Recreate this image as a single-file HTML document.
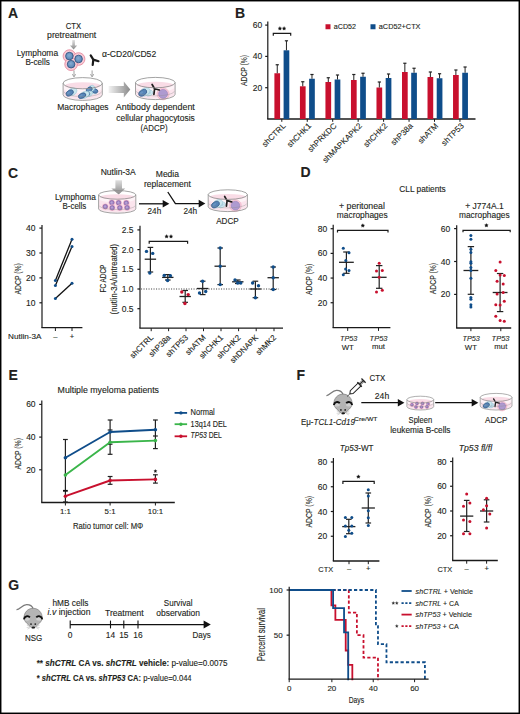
<!DOCTYPE html><html><head><meta charset="utf-8"><style>html,body{margin:0;padding:0;background:#fff;}svg{display:block;}text{font-family:"Liberation Sans",sans-serif;fill:#231f20;stroke:#231f20;stroke-width:0.12px;}</style></head><body>
<svg width="520" height="714" viewBox="0 0 520 714">
<defs>
<linearGradient id="gArrH" x1="0" y1="0" x2="1" y2="0"><stop offset="0" stop-color="#f2f2f2"/><stop offset="1" stop-color="#8a8a8a"/></linearGradient>
<linearGradient id="gArrV" x1="0" y1="0" x2="0" y2="1"><stop offset="0" stop-color="#e0e0e0"/><stop offset="1" stop-color="#8a8a8a"/></linearGradient>
<radialGradient id="gNuc" cx="0.45" cy="0.4" r="0.6"><stop offset="0" stop-color="#86acd2"/><stop offset="1" stop-color="#5481b2"/></radialGradient>
</defs>
<rect x="0.00" y="0.00" width="520.00" height="714.00" fill="#fff" />
<text x="8.00" y="17.80" font-size="14" font-weight="bold" fill="#000">A</text>
<text x="65.80" y="28.50" font-size="8.2" textLength="15.40" lengthAdjust="spacingAndGlyphs">CTX</text>
<text x="47.10" y="38.10" font-size="8.2" textLength="49.10" lengthAdjust="spacingAndGlyphs">pretreatment</text>
<text x="16.70" y="55.80" font-size="8.2" textLength="41.40" lengthAdjust="spacingAndGlyphs">Lymphoma</text>
<text x="25.40" y="64.60" font-size="8.2" textLength="24.40" lengthAdjust="spacingAndGlyphs">B-cells</text>
<text x="102.00" y="56.80" font-size="8.4" textLength="54.20" lengthAdjust="spacingAndGlyphs">α-CD20/CD52</text>
<path d="M72.3 40.0 H74.9 V45.6 H77.2 L73.6 49.5 L70.0 45.6 H72.3 Z" fill="url(#gArrV)"/>
<circle cx="69.40" cy="56.10" r="6.30" fill="#f7cbd6" stroke="#e58ca0" stroke-width="0.9"/>
<circle cx="78.60" cy="59.00" r="6.30" fill="#f7cbd6" stroke="#e58ca0" stroke-width="0.9"/>
<circle cx="71.10" cy="64.20" r="6.30" fill="#f7cbd6" stroke="#e58ca0" stroke-width="0.9"/>
<circle cx="69.40" cy="56.10" r="3.80" fill="url(#gNuc)" stroke="#2c4f7c" stroke-width="0.8"/>
<circle cx="78.60" cy="59.00" r="3.80" fill="url(#gNuc)" stroke="#2c4f7c" stroke-width="0.8"/>
<circle cx="71.10" cy="64.20" r="3.80" fill="url(#gNuc)" stroke="#2c4f7c" stroke-width="0.8"/>
<path d="M92.7 65.0 L93.3 59.6 L90.7 55.4 M93.3 59.6 L98.5 61.2" stroke="#1a1a1a" stroke-width="2.2" fill="none" stroke-linecap="round" stroke-linejoin="round"/>
<line x1="74.00" y1="70.40" x2="74.00" y2="75.50" stroke="#888" stroke-width="0.8" />
<path d="M72.4 74.2 L74.0 76.9 L75.6 74.2" stroke="#888" stroke-width="0.8" fill="none" />
<line x1="92.10" y1="70.40" x2="92.10" y2="75.50" stroke="#888" stroke-width="0.8" />
<path d="M90.5 74.2 L92.1 76.9 L93.69999999999999 74.2" stroke="#888" stroke-width="0.8" fill="none" />
<path d="M63.10 83.20 L63.10 94.80 A19.60 5.60 0 0 0 102.30 94.80 L102.30 83.20 A19.60 5.60 0 0 1 63.10 83.20 Z" fill="#fdf3f7" stroke="none"/>
<ellipse cx="82.70" cy="85.72" rx="17.64" ry="3.36" fill="#f8d3e0" opacity="0.8"/>
<path d="M63.69 88.24 L63.69 94.20 A19.01 5.15 0 0 0 101.71 94.20 L101.71 88.24 A19.01 5.04 0 0 1 63.69 88.24 Z" fill="#f8d3e0" opacity="0.45"/>
<g transform="translate(95.00 91.00) rotate(15)"><ellipse cx="-1.20" cy="0.3" rx="3.77" ry="2.84" fill="#c9e6ee" stroke="#8cbfd0" stroke-width="0.45"/><ellipse cx="0" cy="0" rx="2.90" ry="2.10" fill="#5684b6" stroke="#2b4f80" stroke-width="0.6"/><ellipse cx="-0.58" cy="-0.53" rx="1.30" ry="0.73" fill="#6d98c6" opacity="0.8"/></g>
<g transform="translate(89.20 89.60) rotate(-35)"><ellipse cx="1.80" cy="0.3" rx="4.29" ry="2.97" fill="#c9e6ee" stroke="#8cbfd0" stroke-width="0.45"/><ellipse cx="0" cy="0" rx="3.30" ry="2.20" fill="#5684b6" stroke="#2b4f80" stroke-width="0.6"/><ellipse cx="-0.66" cy="-0.55" rx="1.48" ry="0.77" fill="#6d98c6" opacity="0.8"/></g>
<g transform="translate(87.00 94.20) rotate(-20)"><ellipse cx="1.60" cy="0.3" rx="3.90" ry="2.70" fill="#c9e6ee" stroke="#8cbfd0" stroke-width="0.45"/><ellipse cx="0" cy="0" rx="3.00" ry="2.00" fill="#5684b6" stroke="#2b4f80" stroke-width="0.6"/><ellipse cx="-0.60" cy="-0.50" rx="1.35" ry="0.70" fill="#6d98c6" opacity="0.8"/></g>
<g transform="translate(69.70 93.00) rotate(-30)"><ellipse cx="2.60" cy="0.3" rx="5.20" ry="3.51" fill="#c9e6ee" stroke="#8cbfd0" stroke-width="0.45"/><ellipse cx="0" cy="0" rx="4.00" ry="2.60" fill="#5684b6" stroke="#2b4f80" stroke-width="0.6"/><ellipse cx="-0.80" cy="-0.65" rx="1.80" ry="0.91" fill="#6d98c6" opacity="0.8"/></g>
<g transform="translate(82.10 95.70) rotate(-25)"><ellipse cx="2.40" cy="0.3" rx="5.20" ry="3.24" fill="#c9e6ee" stroke="#8cbfd0" stroke-width="0.45"/><ellipse cx="0" cy="0" rx="4.00" ry="2.40" fill="#5684b6" stroke="#2b4f80" stroke-width="0.6"/><ellipse cx="-0.80" cy="-0.60" rx="1.80" ry="0.84" fill="#6d98c6" opacity="0.8"/></g>
<ellipse cx="82.70" cy="83.20" rx="19.60" ry="5.60" fill="none" stroke="#8c8c8c" stroke-width="0.8"/>
<path d="M63.10 83.20 L63.10 94.80 A19.60 5.60 0 0 0 102.30 94.80 L102.30 83.20" fill="none" stroke="#8c8c8c" stroke-width="0.8"/>
<path d="M63.88 91.60 A18.82 5.04 0 0 0 101.52 91.60" fill="none" stroke="#8c8c8c" stroke-width="0.5" opacity="0.7"/>
<path d="M108.6 85.9 H123.8 V81.5 L130.3 89.5 L123.8 97.4 V93.1 H108.6 Z" fill="url(#gArrH)"/>
<path d="M135.50 82.60 L135.50 94.40 A19.80 5.20 0 0 0 175.10 94.40 L175.10 82.60 A19.80 5.20 0 0 1 135.50 82.60 Z" fill="#fdf3f7" stroke="none"/>
<ellipse cx="155.30" cy="84.94" rx="17.82" ry="3.12" fill="#f8d3e0" opacity="0.8"/>
<path d="M136.09 87.28 L136.09 93.80 A19.21 4.78 0 0 0 174.51 93.80 L174.51 87.28 A19.21 4.68 0 0 1 136.09 87.28 Z" fill="#f8d3e0" opacity="0.45"/>
<ellipse cx="149.30" cy="93.20" rx="3.80" ry="2.60" transform="rotate(-25 149.30 93.20)" fill="#cfe8f0" stroke="#8cbfd0" stroke-width="0.45"/>
<ellipse cx="149.00" cy="93.00" rx="2.20" ry="1.40" transform="rotate(-25 149.00 93.00)" fill="#a9cde0" opacity="0.8"/>
<g transform="translate(142.70 92.80) rotate(-30)"><ellipse cx="2.20" cy="0.3" rx="5.72" ry="3.78" fill="#c9e6ee" stroke="#8cbfd0" stroke-width="0.45"/><ellipse cx="0" cy="0" rx="4.40" ry="2.80" fill="#5684b6" stroke="#2b4f80" stroke-width="0.6"/><ellipse cx="-0.88" cy="-0.70" rx="1.98" ry="0.98" fill="#6d98c6" opacity="0.8"/></g>
<circle cx="163.10" cy="93.90" r="6.00" fill="#f8cfdd" stroke="#eaa0b8" stroke-width="0.5"/>
<circle cx="163.10" cy="93.90" r="4.50" fill="#ae9ad0" stroke="#8a70b0" stroke-width="0.45"/>
<path d="M152.10 84.50 L154.60 88.80 L159.30 90.00 M154.60 88.80 L153.90 94.40" stroke="#1e1e1e" stroke-width="1.7" fill="none" stroke-linecap="round" stroke-linejoin="round"/>
<ellipse cx="155.30" cy="82.60" rx="19.80" ry="5.20" fill="none" stroke="#8c8c8c" stroke-width="0.8"/>
<path d="M135.50 82.60 L135.50 94.40 A19.80 5.20 0 0 0 175.10 94.40 L175.10 82.60" fill="none" stroke="#8c8c8c" stroke-width="0.8"/>
<path d="M136.29 91.20 A19.01 4.68 0 0 0 174.31 91.20" fill="none" stroke="#8c8c8c" stroke-width="0.5" opacity="0.7"/>
<text x="57.30" y="110.40" font-size="8.4" textLength="51.30" lengthAdjust="spacingAndGlyphs">Macrophages</text>
<text x="115.80" y="110.40" font-size="8.4" textLength="79.00" lengthAdjust="spacingAndGlyphs">Antibody dependent</text>
<text x="116.20" y="120.50" font-size="8.4" textLength="78.60" lengthAdjust="spacingAndGlyphs">cellular phagocytosis</text>
<text x="140.50" y="130.80" font-size="8.4" textLength="27.00" lengthAdjust="spacingAndGlyphs">(ADCP)</text>
<text x="235.00" y="17.70" font-size="14" font-weight="bold" fill="#000">B</text>
<line x1="267.80" y1="21.50" x2="267.80" y2="119.00" stroke="#1a1a1a" stroke-width="1.2" />
<line x1="265.20" y1="25.10" x2="267.80" y2="25.10" stroke="#1a1a1a" stroke-width="1.2" />
<text x="262.20" y="28.10" font-size="8.5" text-anchor="end">60</text>
<line x1="265.20" y1="56.40" x2="267.80" y2="56.40" stroke="#1a1a1a" stroke-width="1.2" />
<text x="262.20" y="59.40" font-size="8.5" text-anchor="end">40</text>
<line x1="265.20" y1="87.70" x2="267.80" y2="87.70" stroke="#1a1a1a" stroke-width="1.2" />
<text x="262.20" y="90.70" font-size="8.5" text-anchor="end">20</text>
<line x1="267.20" y1="119.00" x2="475.50" y2="119.00" stroke="#1a1a1a" stroke-width="1.3" />
<text x="247.00" y="70.40" font-size="9.0" text-anchor="middle" textLength="31.00" lengthAdjust="spacingAndGlyphs" transform="rotate(-90 247.00 70.40)">ADCP (%)</text>
<rect x="325.50" y="24.25" width="5.00" height="5.00" fill="#c8102e" />
<text x="333.80" y="29.40" font-size="7.6" textLength="22.20" lengthAdjust="spacingAndGlyphs">aCD52</text>
<rect x="370.50" y="24.25" width="5.00" height="5.00" fill="#0f4d8a" />
<text x="378.80" y="29.40" font-size="7.6" textLength="41.70" lengthAdjust="spacingAndGlyphs">aCD52+CTX</text>
<rect x="274.40" y="73.25" width="5.70" height="45.75" fill="#c8102e" />
<rect x="283.60" y="50.30" width="5.70" height="68.70" fill="#0f4d8a" />
<line x1="277.25" y1="73.25" x2="277.25" y2="64.75" stroke="#222" stroke-width="1.0" />
<line x1="275.65" y1="64.75" x2="278.85" y2="64.75" stroke="#222" stroke-width="1.2" />
<line x1="286.45" y1="50.30" x2="286.45" y2="40.80" stroke="#222" stroke-width="1.0" />
<line x1="284.85" y1="40.80" x2="288.05" y2="40.80" stroke="#222" stroke-width="1.2" />
<line x1="281.80" y1="119.00" x2="281.80" y2="121.80" stroke="#1a1a1a" stroke-width="1.0" />
<text x="286.20" y="126.40" font-size="8.1" text-anchor="end" transform="rotate(-45 286.20 126.40)">shCTRL</text>
<rect x="299.92" y="86.30" width="5.70" height="32.70" fill="#c8102e" />
<rect x="309.12" y="78.75" width="5.70" height="40.25" fill="#0f4d8a" />
<line x1="302.77" y1="86.30" x2="302.77" y2="81.75" stroke="#222" stroke-width="1.0" />
<line x1="301.17" y1="81.75" x2="304.37" y2="81.75" stroke="#222" stroke-width="1.2" />
<line x1="311.97" y1="78.75" x2="311.97" y2="74.50" stroke="#222" stroke-width="1.0" />
<line x1="310.37" y1="74.50" x2="313.57" y2="74.50" stroke="#222" stroke-width="1.2" />
<line x1="307.25" y1="119.00" x2="307.25" y2="121.80" stroke="#1a1a1a" stroke-width="1.0" />
<text x="311.65" y="126.40" font-size="8.1" text-anchor="end" transform="rotate(-45 311.65 126.40)">shCHK1</text>
<rect x="325.44" y="82.00" width="5.70" height="37.00" fill="#c8102e" />
<rect x="334.64" y="79.50" width="5.70" height="39.50" fill="#0f4d8a" />
<line x1="328.29" y1="82.00" x2="328.29" y2="77.75" stroke="#222" stroke-width="1.0" />
<line x1="326.69" y1="77.75" x2="329.89" y2="77.75" stroke="#222" stroke-width="1.2" />
<line x1="337.49" y1="79.50" x2="337.49" y2="75.00" stroke="#222" stroke-width="1.0" />
<line x1="335.89" y1="75.00" x2="339.09" y2="75.00" stroke="#222" stroke-width="1.2" />
<line x1="332.70" y1="119.00" x2="332.70" y2="121.80" stroke="#1a1a1a" stroke-width="1.0" />
<text x="337.10" y="126.40" font-size="8.1" text-anchor="end" transform="rotate(-45 337.10 126.40)">shPRKDC</text>
<rect x="350.96" y="80.00" width="5.70" height="39.00" fill="#c8102e" />
<rect x="360.16" y="76.75" width="5.70" height="42.25" fill="#0f4d8a" />
<line x1="353.81" y1="80.00" x2="353.81" y2="74.50" stroke="#222" stroke-width="1.0" />
<line x1="352.21" y1="74.50" x2="355.41" y2="74.50" stroke="#222" stroke-width="1.2" />
<line x1="363.01" y1="76.75" x2="363.01" y2="73.25" stroke="#222" stroke-width="1.0" />
<line x1="361.41" y1="73.25" x2="364.61" y2="73.25" stroke="#222" stroke-width="1.2" />
<line x1="358.15" y1="119.00" x2="358.15" y2="121.80" stroke="#1a1a1a" stroke-width="1.0" />
<text x="362.55" y="126.40" font-size="8.1" text-anchor="end" transform="rotate(-45 362.55 126.40)">shMAPKAPK2</text>
<rect x="376.48" y="87.50" width="5.70" height="31.50" fill="#c8102e" />
<rect x="385.68" y="78.00" width="5.70" height="41.00" fill="#0f4d8a" />
<line x1="379.33" y1="87.50" x2="379.33" y2="82.00" stroke="#222" stroke-width="1.0" />
<line x1="377.73" y1="82.00" x2="380.93" y2="82.00" stroke="#222" stroke-width="1.2" />
<line x1="388.53" y1="78.00" x2="388.53" y2="74.00" stroke="#222" stroke-width="1.0" />
<line x1="386.93" y1="74.00" x2="390.13" y2="74.00" stroke="#222" stroke-width="1.2" />
<line x1="383.60" y1="119.00" x2="383.60" y2="121.80" stroke="#1a1a1a" stroke-width="1.0" />
<text x="388.00" y="126.40" font-size="8.1" text-anchor="end" transform="rotate(-45 388.00 126.40)">shCHK2</text>
<rect x="402.00" y="72.00" width="5.70" height="47.00" fill="#c8102e" />
<rect x="411.20" y="72.75" width="5.70" height="46.25" fill="#0f4d8a" />
<line x1="404.85" y1="72.00" x2="404.85" y2="63.25" stroke="#222" stroke-width="1.0" />
<line x1="403.25" y1="63.25" x2="406.45" y2="63.25" stroke="#222" stroke-width="1.2" />
<line x1="414.05" y1="72.75" x2="414.05" y2="68.25" stroke="#222" stroke-width="1.0" />
<line x1="412.45" y1="68.25" x2="415.65" y2="68.25" stroke="#222" stroke-width="1.2" />
<line x1="409.05" y1="119.00" x2="409.05" y2="121.80" stroke="#1a1a1a" stroke-width="1.0" />
<text x="413.45" y="126.40" font-size="8.1" text-anchor="end" transform="rotate(-45 413.45 126.40)">shP38a</text>
<rect x="427.52" y="77.00" width="5.70" height="42.00" fill="#c8102e" />
<rect x="436.72" y="78.25" width="5.70" height="40.75" fill="#0f4d8a" />
<line x1="430.37" y1="77.00" x2="430.37" y2="72.00" stroke="#222" stroke-width="1.0" />
<line x1="428.77" y1="72.00" x2="431.97" y2="72.00" stroke="#222" stroke-width="1.2" />
<line x1="439.57" y1="78.25" x2="439.57" y2="73.75" stroke="#222" stroke-width="1.0" />
<line x1="437.97" y1="73.75" x2="441.17" y2="73.75" stroke="#222" stroke-width="1.2" />
<line x1="434.50" y1="119.00" x2="434.50" y2="121.80" stroke="#1a1a1a" stroke-width="1.0" />
<text x="438.90" y="126.40" font-size="8.1" text-anchor="end" transform="rotate(-45 438.90 126.40)">shATM</text>
<rect x="453.04" y="75.00" width="5.70" height="44.00" fill="#c8102e" />
<rect x="462.24" y="72.75" width="5.70" height="46.25" fill="#0f4d8a" />
<line x1="455.89" y1="75.00" x2="455.89" y2="70.00" stroke="#222" stroke-width="1.0" />
<line x1="454.29" y1="70.00" x2="457.49" y2="70.00" stroke="#222" stroke-width="1.2" />
<line x1="465.09" y1="72.75" x2="465.09" y2="67.00" stroke="#222" stroke-width="1.0" />
<line x1="463.49" y1="67.00" x2="466.69" y2="67.00" stroke="#222" stroke-width="1.2" />
<line x1="459.95" y1="119.00" x2="459.95" y2="121.80" stroke="#1a1a1a" stroke-width="1.0" />
<text x="464.35" y="126.40" font-size="8.1" text-anchor="end" transform="rotate(-45 464.35 126.40)">shTP53</text>
<path d="M273.3 35.8 V33.4 H290.7 V35.8" stroke="#1a1a1a" stroke-width="1.2" fill="none" />
<polygon points="279.90,26.60 280.49,27.69 281.71,27.91 280.85,28.81 281.02,30.04 279.90,29.50 278.78,30.04 278.95,28.81 278.09,27.91 279.31,27.69" fill="#111" stroke="#111" stroke-width="0.3"/>
<polygon points="284.10,26.60 284.69,27.69 285.91,27.91 285.05,28.81 285.22,30.04 284.10,29.50 282.98,30.04 283.15,28.81 282.29,27.91 283.51,27.69" fill="#111" stroke="#111" stroke-width="0.3"/>
<text x="8.00" y="177.60" font-size="14" font-weight="bold" fill="#000">C</text>
<text x="100.70" y="175.00" font-size="8.2" textLength="35.10" lengthAdjust="spacingAndGlyphs">Nutlin-3A</text>
<text x="55.00" y="199.80" font-size="8.2" textLength="40.80" lengthAdjust="spacingAndGlyphs">Lymphoma</text>
<text x="62.50" y="208.70" font-size="8.2" textLength="23.80" lengthAdjust="spacingAndGlyphs">B-cells</text>
<path d="M115.4 180.2 H122.0 V188.4 H125.2 L118.7 194.4 L111.3 188.4 H115.4 Z" fill="url(#gArrV)"/>
<path d="M98.60 194.90 L98.60 208.90 A18.60 4.30 0 0 0 135.80 208.90 L135.80 194.90 A18.60 4.30 0 0 1 98.60 194.90 Z" fill="#fdf3f7" stroke="none"/>
<ellipse cx="117.20" cy="196.84" rx="16.74" ry="2.58" fill="#f8d3e0" opacity="0.8"/>
<path d="M99.16 198.77 L99.16 208.30 A18.04 3.96 0 0 0 135.24 208.30 L135.24 198.77 A18.04 3.87 0 0 1 99.16 198.77 Z" fill="#f8d3e0" opacity="0.45"/>
<circle cx="111.80" cy="202.60" r="3.20" fill="#f4bccf" />
<circle cx="111.80" cy="202.60" r="2.20" fill="#a286c4" stroke="#74579f" stroke-width="0.55"/>
<circle cx="111.60" cy="202.40" r="0.99" fill="#b9a2d6" />
<circle cx="118.60" cy="202.80" r="3.20" fill="#f4bccf" />
<circle cx="118.60" cy="202.80" r="2.20" fill="#a286c4" stroke="#74579f" stroke-width="0.55"/>
<circle cx="118.40" cy="202.60" r="0.99" fill="#b9a2d6" />
<circle cx="126.30" cy="203.00" r="3.20" fill="#f4bccf" />
<circle cx="126.30" cy="203.00" r="2.20" fill="#a286c4" stroke="#74579f" stroke-width="0.55"/>
<circle cx="126.10" cy="202.80" r="0.99" fill="#b9a2d6" />
<circle cx="105.30" cy="206.60" r="3.20" fill="#f4bccf" />
<circle cx="105.30" cy="206.60" r="2.20" fill="#a286c4" stroke="#74579f" stroke-width="0.55"/>
<circle cx="105.10" cy="206.40" r="0.99" fill="#b9a2d6" />
<circle cx="112.20" cy="207.80" r="3.20" fill="#f4bccf" />
<circle cx="112.20" cy="207.80" r="2.20" fill="#a286c4" stroke="#74579f" stroke-width="0.55"/>
<circle cx="112.00" cy="207.60" r="0.99" fill="#b9a2d6" />
<circle cx="119.80" cy="207.80" r="3.20" fill="#f4bccf" />
<circle cx="119.80" cy="207.80" r="2.20" fill="#a286c4" stroke="#74579f" stroke-width="0.55"/>
<circle cx="119.60" cy="207.60" r="0.99" fill="#b9a2d6" />
<circle cx="127.10" cy="207.60" r="3.20" fill="#f4bccf" />
<circle cx="127.10" cy="207.60" r="2.20" fill="#a286c4" stroke="#74579f" stroke-width="0.55"/>
<circle cx="126.90" cy="207.40" r="0.99" fill="#b9a2d6" />
<ellipse cx="117.20" cy="194.90" rx="18.60" ry="4.30" fill="none" stroke="#8c8c8c" stroke-width="0.8"/>
<path d="M98.60 194.90 L98.60 208.90 A18.60 4.30 0 0 0 135.80 208.90 L135.80 194.90" fill="none" stroke="#8c8c8c" stroke-width="0.8"/>
<path d="M99.34 205.70 A17.86 3.87 0 0 0 135.06 205.70" fill="none" stroke="#8c8c8c" stroke-width="0.5" opacity="0.7"/>
<line x1="139.00" y1="203.80" x2="163.20" y2="203.80" stroke="#111" stroke-width="1.3" />
<path d="M162.70 200.00 L169.30 203.80 L162.70 207.60 Z" fill="#111"/>
<text x="147.60" y="214.00" font-size="8.2" textLength="13.60" lengthAdjust="spacingAndGlyphs">24h</text>
<text x="155.80" y="177.20" font-size="8.2" textLength="23.20" lengthAdjust="spacingAndGlyphs">Media</text>
<text x="144.00" y="186.90" font-size="8.2" textLength="46.80" lengthAdjust="spacingAndGlyphs">replacement</text>
<path d="M167.8 192.0 L175.4 203.6 H200.0" stroke="#111" stroke-width="1.3" fill="none" />
<path d="M198.7 199.8 L205.3 203.6 L198.7 207.4 Z" fill="#111"/>
<text x="183.40" y="214.00" font-size="8.2" textLength="13.80" lengthAdjust="spacingAndGlyphs">24h</text>
<path d="M208.20 194.60 L208.20 206.80 A19.60 4.80 0 0 0 247.40 206.80 L247.40 194.60 A19.60 4.80 0 0 1 208.20 194.60 Z" fill="#fdf3f7" stroke="none"/>
<ellipse cx="227.80" cy="196.76" rx="17.64" ry="2.88" fill="#f8d3e0" opacity="0.8"/>
<path d="M208.79 198.92 L208.79 206.20 A19.01 4.42 0 0 0 246.81 206.20 L246.81 198.92 A19.01 4.32 0 0 1 208.79 198.92 Z" fill="#f8d3e0" opacity="0.45"/>
<ellipse cx="221.92" cy="204.99" rx="3.72" ry="2.55" transform="rotate(-25 221.92 204.99)" fill="#cfe8f0" stroke="#8cbfd0" stroke-width="0.45"/>
<ellipse cx="221.63" cy="204.79" rx="2.16" ry="1.37" transform="rotate(-25 221.63 204.79)" fill="#a9cde0" opacity="0.8"/>
<g transform="translate(215.45 204.60) rotate(-30)"><ellipse cx="2.16" cy="0.3" rx="5.61" ry="3.70" fill="#c9e6ee" stroke="#8cbfd0" stroke-width="0.45"/><ellipse cx="0" cy="0" rx="4.31" ry="2.74" fill="#5684b6" stroke="#2b4f80" stroke-width="0.6"/><ellipse cx="-0.86" cy="-0.69" rx="1.94" ry="0.96" fill="#6d98c6" opacity="0.8"/></g>
<circle cx="235.44" cy="205.67" r="5.88" fill="#f8cfdd" stroke="#eaa0b8" stroke-width="0.5"/>
<circle cx="235.44" cy="205.67" r="4.41" fill="#ae9ad0" stroke="#8a70b0" stroke-width="0.45"/>
<path d="M224.66 196.46 L227.11 200.68 L231.72 201.85 M227.11 200.68 L226.43 206.16" stroke="#1e1e1e" stroke-width="1.666" fill="none" stroke-linecap="round" stroke-linejoin="round"/>
<ellipse cx="227.80" cy="194.60" rx="19.60" ry="4.80" fill="none" stroke="#8c8c8c" stroke-width="0.8"/>
<path d="M208.20 194.60 L208.20 206.80 A19.60 4.80 0 0 0 247.40 206.80 L247.40 194.60" fill="none" stroke="#8c8c8c" stroke-width="0.8"/>
<path d="M208.98 203.60 A18.82 4.32 0 0 0 246.62 203.60" fill="none" stroke="#8c8c8c" stroke-width="0.5" opacity="0.7"/>
<text x="216.20" y="223.70" font-size="8.2" textLength="22.50" lengthAdjust="spacingAndGlyphs">ADCP</text>
<line x1="42.00" y1="225.00" x2="42.00" y2="327.70" stroke="#1a1a1a" stroke-width="1.2" />
<line x1="39.40" y1="228.10" x2="42.00" y2="228.10" stroke="#1a1a1a" stroke-width="1.2" />
<text x="35.40" y="231.10" font-size="8.5" text-anchor="end">40</text>
<line x1="39.40" y1="253.00" x2="42.00" y2="253.00" stroke="#1a1a1a" stroke-width="1.2" />
<text x="35.40" y="256.00" font-size="8.5" text-anchor="end">30</text>
<line x1="39.40" y1="277.90" x2="42.00" y2="277.90" stroke="#1a1a1a" stroke-width="1.2" />
<text x="35.40" y="280.90" font-size="8.5" text-anchor="end">20</text>
<line x1="39.40" y1="302.80" x2="42.00" y2="302.80" stroke="#1a1a1a" stroke-width="1.2" />
<text x="35.40" y="305.80" font-size="8.5" text-anchor="end">10</text>
<line x1="41.40" y1="327.70" x2="82.40" y2="327.70" stroke="#1a1a1a" stroke-width="1.3" />
<line x1="55.40" y1="327.70" x2="55.40" y2="331.00" stroke="#1a1a1a" stroke-width="1.0" />
<line x1="72.00" y1="327.70" x2="72.00" y2="331.00" stroke="#1a1a1a" stroke-width="1.0" />
<line x1="55.40" y1="280.40" x2="72.00" y2="239.30" stroke="#111" stroke-width="1.3" />
<line x1="55.40" y1="285.50" x2="72.00" y2="246.50" stroke="#111" stroke-width="1.3" />
<line x1="55.40" y1="298.40" x2="72.00" y2="283.20" stroke="#111" stroke-width="1.3" />
<circle cx="55.40" cy="280.40" r="1.50" fill="#0f4d8a" />
<circle cx="55.40" cy="285.50" r="1.50" fill="#0f4d8a" />
<circle cx="55.40" cy="298.40" r="1.50" fill="#0f4d8a" />
<circle cx="72.00" cy="239.30" r="1.50" fill="#0f4d8a" />
<circle cx="72.00" cy="246.50" r="1.50" fill="#0f4d8a" />
<circle cx="72.00" cy="283.20" r="1.50" fill="#0f4d8a" />
<text x="21.00" y="278.80" font-size="9.0" text-anchor="middle" textLength="31.30" lengthAdjust="spacingAndGlyphs" transform="rotate(-90 21.00 278.80)">ADCP (%)</text>
<text x="8.00" y="339.20" font-size="7.6" textLength="33.50" lengthAdjust="spacingAndGlyphs">Nutlin-3A</text>
<text x="55.40" y="339.00" font-size="7.6" text-anchor="middle">–</text>
<text x="72.00" y="339.00" font-size="7.6" text-anchor="middle">+</text>
<line x1="140.00" y1="225.70" x2="140.00" y2="328.20" stroke="#1a1a1a" stroke-width="1.2" />
<line x1="137.40" y1="229.90" x2="140.00" y2="229.90" stroke="#1a1a1a" stroke-width="1.2" />
<text x="133.60" y="232.90" font-size="8.5" text-anchor="end">2.5</text>
<line x1="137.40" y1="249.60" x2="140.00" y2="249.60" stroke="#1a1a1a" stroke-width="1.2" />
<text x="133.60" y="252.60" font-size="8.5" text-anchor="end">2.0</text>
<line x1="137.40" y1="269.30" x2="140.00" y2="269.30" stroke="#1a1a1a" stroke-width="1.2" />
<text x="133.60" y="272.30" font-size="8.5" text-anchor="end">1.5</text>
<line x1="137.40" y1="289.00" x2="140.00" y2="289.00" stroke="#1a1a1a" stroke-width="1.2" />
<text x="133.60" y="292.00" font-size="8.5" text-anchor="end">1.0</text>
<line x1="137.40" y1="308.70" x2="140.00" y2="308.70" stroke="#1a1a1a" stroke-width="1.2" />
<text x="133.60" y="311.70" font-size="8.5" text-anchor="end">0.5</text>
<line x1="139.40" y1="328.20" x2="283.00" y2="328.20" stroke="#1a1a1a" stroke-width="1.3" />
<line x1="141.00" y1="289.00" x2="279.00" y2="289.00" stroke="#333" stroke-width="0.9" stroke-dasharray="1.1 1.4"/>
<text x="105.50" y="278.50" font-size="8.8" text-anchor="middle" textLength="27.80" lengthAdjust="spacingAndGlyphs" transform="rotate(-90 105.50 278.50)">FC ADCP</text>
<text x="116.70" y="279.10" font-size="8.8" text-anchor="middle" textLength="70.60" lengthAdjust="spacingAndGlyphs" transform="rotate(-90 116.70 279.10)">(nutlin-3A/untreated)</text>
<line x1="150.40" y1="247.40" x2="150.40" y2="272.00" stroke="#222" stroke-width="1.2" />
<line x1="147.60" y1="247.40" x2="153.20" y2="247.40" stroke="#222" stroke-width="1.2" />
<line x1="147.60" y1="272.00" x2="153.20" y2="272.00" stroke="#222" stroke-width="1.2" />
<line x1="144.70" y1="259.20" x2="156.10" y2="259.20" stroke="#222" stroke-width="1.3" />
<circle cx="146.50" cy="251.40" r="1.70" fill="#0f4d8a" />
<circle cx="152.70" cy="253.40" r="1.70" fill="#0f4d8a" />
<circle cx="149.80" cy="273.00" r="1.70" fill="#0f4d8a" />
<line x1="151.20" y1="328.20" x2="151.20" y2="331.20" stroke="#1a1a1a" stroke-width="1.0" />
<text x="153.80" y="338.00" font-size="8.0" text-anchor="end" transform="rotate(-45 153.80 338.00)">shCTRL</text>
<line x1="167.80" y1="274.60" x2="167.80" y2="280.00" stroke="#222" stroke-width="1.2" />
<line x1="165.00" y1="274.60" x2="170.60" y2="274.60" stroke="#222" stroke-width="1.2" />
<line x1="165.00" y1="280.00" x2="170.60" y2="280.00" stroke="#222" stroke-width="1.2" />
<line x1="162.10" y1="277.40" x2="173.50" y2="277.40" stroke="#222" stroke-width="1.3" />
<circle cx="164.20" cy="275.40" r="1.70" fill="#0f4d8a" />
<circle cx="170.40" cy="275.70" r="1.70" fill="#0f4d8a" />
<circle cx="167.60" cy="280.50" r="1.70" fill="#0f4d8a" />
<line x1="168.60" y1="328.20" x2="168.60" y2="331.20" stroke="#1a1a1a" stroke-width="1.0" />
<text x="171.20" y="338.00" font-size="8.0" text-anchor="end" transform="rotate(-45 171.20 338.00)">shP38a</text>
<line x1="185.20" y1="290.50" x2="185.20" y2="302.30" stroke="#222" stroke-width="1.2" />
<line x1="182.40" y1="290.50" x2="188.00" y2="290.50" stroke="#222" stroke-width="1.2" />
<line x1="182.40" y1="302.30" x2="188.00" y2="302.30" stroke="#222" stroke-width="1.2" />
<line x1="179.50" y1="296.50" x2="190.90" y2="296.50" stroke="#222" stroke-width="1.3" />
<circle cx="181.80" cy="292.00" r="1.70" fill="#c8102e" />
<circle cx="188.20" cy="294.60" r="1.70" fill="#c8102e" />
<circle cx="184.90" cy="303.50" r="1.70" fill="#c8102e" />
<line x1="186.00" y1="328.20" x2="186.00" y2="331.20" stroke="#1a1a1a" stroke-width="1.0" />
<text x="188.60" y="338.00" font-size="8.0" text-anchor="end" transform="rotate(-45 188.60 338.00)">shTP53</text>
<line x1="202.70" y1="281.20" x2="202.70" y2="294.60" stroke="#222" stroke-width="1.2" />
<line x1="199.90" y1="281.20" x2="205.50" y2="281.20" stroke="#222" stroke-width="1.2" />
<line x1="199.90" y1="294.60" x2="205.50" y2="294.60" stroke="#222" stroke-width="1.2" />
<line x1="197.00" y1="288.50" x2="208.40" y2="288.50" stroke="#222" stroke-width="1.3" />
<circle cx="202.60" cy="281.20" r="1.70" fill="#0f4d8a" />
<circle cx="199.50" cy="293.00" r="1.70" fill="#0f4d8a" />
<circle cx="205.70" cy="291.50" r="1.70" fill="#0f4d8a" />
<line x1="203.50" y1="328.20" x2="203.50" y2="331.20" stroke="#1a1a1a" stroke-width="1.0" />
<text x="206.10" y="338.00" font-size="8.0" text-anchor="end" transform="rotate(-45 206.10 338.00)">shATM</text>
<line x1="220.20" y1="248.00" x2="220.20" y2="284.60" stroke="#222" stroke-width="1.2" />
<line x1="217.40" y1="248.00" x2="223.00" y2="248.00" stroke="#222" stroke-width="1.2" />
<line x1="217.40" y1="284.60" x2="223.00" y2="284.60" stroke="#222" stroke-width="1.2" />
<line x1="214.50" y1="266.20" x2="225.90" y2="266.20" stroke="#222" stroke-width="1.3" />
<circle cx="220.20" cy="248.00" r="1.70" fill="#0f4d8a" />
<circle cx="220.20" cy="266.20" r="1.70" fill="#0f4d8a" />
<circle cx="220.20" cy="284.60" r="1.70" fill="#0f4d8a" />
<line x1="221.00" y1="328.20" x2="221.00" y2="331.20" stroke="#1a1a1a" stroke-width="1.0" />
<text x="223.60" y="338.00" font-size="8.0" text-anchor="end" transform="rotate(-45 223.60 338.00)">shCHK1</text>
<line x1="237.80" y1="280.00" x2="237.80" y2="283.50" stroke="#222" stroke-width="1.2" />
<line x1="235.00" y1="280.00" x2="240.60" y2="280.00" stroke="#222" stroke-width="1.2" />
<line x1="235.00" y1="283.50" x2="240.60" y2="283.50" stroke="#222" stroke-width="1.2" />
<line x1="232.10" y1="281.80" x2="243.50" y2="281.80" stroke="#222" stroke-width="1.3" />
<circle cx="235.00" cy="280.00" r="1.70" fill="#0f4d8a" />
<circle cx="237.70" cy="283.00" r="1.70" fill="#0f4d8a" />
<circle cx="240.80" cy="283.00" r="1.70" fill="#0f4d8a" />
<line x1="238.60" y1="328.20" x2="238.60" y2="331.20" stroke="#1a1a1a" stroke-width="1.0" />
<text x="241.20" y="338.00" font-size="8.0" text-anchor="end" transform="rotate(-45 241.20 338.00)">shCHK2</text>
<line x1="255.40" y1="281.20" x2="255.40" y2="297.70" stroke="#222" stroke-width="1.2" />
<line x1="252.60" y1="281.20" x2="258.20" y2="281.20" stroke="#222" stroke-width="1.2" />
<line x1="252.60" y1="297.70" x2="258.20" y2="297.70" stroke="#222" stroke-width="1.2" />
<line x1="249.70" y1="289.00" x2="261.10" y2="289.00" stroke="#222" stroke-width="1.3" />
<circle cx="252.60" cy="283.00" r="1.70" fill="#0f4d8a" />
<circle cx="258.50" cy="285.80" r="1.70" fill="#0f4d8a" />
<circle cx="255.40" cy="297.70" r="1.70" fill="#0f4d8a" />
<line x1="256.20" y1="328.20" x2="256.20" y2="331.20" stroke="#1a1a1a" stroke-width="1.0" />
<text x="258.80" y="338.00" font-size="8.0" text-anchor="end" transform="rotate(-45 258.80 338.00)">shDNAPK</text>
<line x1="273.20" y1="267.00" x2="273.20" y2="289.50" stroke="#222" stroke-width="1.2" />
<line x1="270.40" y1="267.00" x2="276.00" y2="267.00" stroke="#222" stroke-width="1.2" />
<line x1="270.40" y1="289.50" x2="276.00" y2="289.50" stroke="#222" stroke-width="1.2" />
<line x1="267.50" y1="277.70" x2="278.90" y2="277.70" stroke="#222" stroke-width="1.3" />
<circle cx="273.20" cy="267.00" r="1.70" fill="#0f4d8a" />
<circle cx="273.20" cy="277.70" r="1.70" fill="#0f4d8a" />
<circle cx="273.20" cy="289.50" r="1.70" fill="#0f4d8a" />
<line x1="274.00" y1="328.20" x2="274.00" y2="331.20" stroke="#1a1a1a" stroke-width="1.0" />
<text x="276.60" y="338.00" font-size="8.0" text-anchor="end" transform="rotate(-45 276.60 338.00)">shMK2</text>
<path d="M149.2 243.8 V241.3 H187.6 V243.8" stroke="#1a1a1a" stroke-width="1.2" fill="none" />
<polygon points="166.60,234.60 167.19,235.69 168.41,235.91 167.55,236.81 167.72,238.04 166.60,237.50 165.48,238.04 165.65,236.81 164.79,235.91 166.01,235.69" fill="#111" stroke="#111" stroke-width="0.3"/>
<polygon points="171.00,234.60 171.59,235.69 172.81,235.91 171.95,236.81 172.12,238.04 171.00,237.50 169.88,238.04 170.05,236.81 169.19,235.91 170.41,235.69" fill="#111" stroke="#111" stroke-width="0.3"/>
<text x="300.60" y="177.30" font-size="14" font-weight="bold" fill="#000">D</text>
<text x="399.30" y="191.60" font-size="8.2" textLength="46.50" lengthAdjust="spacingAndGlyphs">CLL patients</text>
<text x="339.00" y="208.60" font-size="8.2" textLength="45.90" lengthAdjust="spacingAndGlyphs">+ peritoneal</text>
<text x="336.80" y="218.40" font-size="8.2" textLength="50.80" lengthAdjust="spacingAndGlyphs">macrophages</text>
<text x="465.20" y="209.40" font-size="8.2" textLength="38.60" lengthAdjust="spacingAndGlyphs">+ J774A.1</text>
<text x="459.00" y="218.40" font-size="8.2" textLength="50.60" lengthAdjust="spacingAndGlyphs">macrophages</text>
<line x1="333.20" y1="224.80" x2="333.20" y2="327.70" stroke="#1a1a1a" stroke-width="1.2" />
<line x1="330.60" y1="228.72" x2="333.20" y2="228.72" stroke="#1a1a1a" stroke-width="1.2" />
<text x="327.20" y="231.72" font-size="8.5" text-anchor="end">80</text>
<line x1="330.60" y1="253.39" x2="333.20" y2="253.39" stroke="#1a1a1a" stroke-width="1.2" />
<text x="327.20" y="256.39" font-size="8.5" text-anchor="end">60</text>
<line x1="330.60" y1="278.06" x2="333.20" y2="278.06" stroke="#1a1a1a" stroke-width="1.2" />
<text x="327.20" y="281.06" font-size="8.5" text-anchor="end">40</text>
<line x1="330.60" y1="302.73" x2="333.20" y2="302.73" stroke="#1a1a1a" stroke-width="1.2" />
<text x="327.20" y="305.73" font-size="8.5" text-anchor="end">20</text>
<line x1="332.60" y1="327.70" x2="390.40" y2="327.70" stroke="#1a1a1a" stroke-width="1.3" />
<line x1="347.70" y1="327.70" x2="347.70" y2="330.90" stroke="#1a1a1a" stroke-width="1.0" />
<line x1="378.50" y1="327.70" x2="378.50" y2="330.90" stroke="#1a1a1a" stroke-width="1.0" />
<line x1="346.40" y1="252.00" x2="346.40" y2="273.30" stroke="#222" stroke-width="1.2" />
<line x1="343.20" y1="252.00" x2="349.60" y2="252.00" stroke="#222" stroke-width="1.2" />
<line x1="343.20" y1="273.30" x2="349.60" y2="273.30" stroke="#222" stroke-width="1.2" />
<line x1="339.00" y1="262.30" x2="353.80" y2="262.30" stroke="#222" stroke-width="1.3" />
<circle cx="343.30" cy="248.30" r="1.50" fill="#0f4d8a" />
<circle cx="349.00" cy="252.70" r="1.50" fill="#0f4d8a" />
<circle cx="345.80" cy="260.40" r="1.50" fill="#0f4d8a" />
<circle cx="345.60" cy="269.00" r="1.50" fill="#0f4d8a" />
<circle cx="349.00" cy="270.60" r="1.50" fill="#0f4d8a" />
<circle cx="343.30" cy="274.80" r="1.50" fill="#0f4d8a" />
<line x1="379.20" y1="265.60" x2="379.20" y2="288.30" stroke="#222" stroke-width="1.2" />
<line x1="376.00" y1="265.60" x2="382.40" y2="265.60" stroke="#222" stroke-width="1.2" />
<line x1="376.00" y1="288.30" x2="382.40" y2="288.30" stroke="#222" stroke-width="1.2" />
<line x1="371.80" y1="277.30" x2="386.60" y2="277.30" stroke="#222" stroke-width="1.3" />
<circle cx="379.20" cy="263.30" r="1.50" fill="#c8102e" />
<circle cx="376.50" cy="271.00" r="1.50" fill="#c8102e" />
<circle cx="382.30" cy="270.40" r="1.50" fill="#c8102e" />
<circle cx="379.20" cy="277.30" r="1.50" fill="#c8102e" />
<circle cx="376.50" cy="292.10" r="1.50" fill="#c8102e" />
<circle cx="382.30" cy="290.20" r="1.50" fill="#c8102e" />
<path d="M337.5 232.4 V230.4 H388.0 V232.4" stroke="#1a1a1a" stroke-width="1.2" fill="none" />
<polygon points="362.80,223.70 363.39,224.79 364.61,225.01 363.75,225.91 363.92,227.14 362.80,226.60 361.68,227.14 361.85,225.91 360.99,225.01 362.21,224.79" fill="#111" stroke="#111" stroke-width="0.3"/>
<text x="312.20" y="279.40" font-size="9.0" text-anchor="middle" textLength="31.30" lengthAdjust="spacingAndGlyphs" transform="rotate(-90 312.20 279.40)">ADCP (%)</text>
<text x="340.00" y="340.80" font-size="7.8" textLength="17.30" lengthAdjust="spacingAndGlyphs" font-style="italic">TP53</text>
<text x="347.70" y="350.00" font-size="7.8" text-anchor="middle">WT</text>
<text x="369.60" y="340.80" font-size="7.8" textLength="17.90" lengthAdjust="spacingAndGlyphs" font-style="italic">TP53</text>
<text x="378.50" y="349.20" font-size="7.8" text-anchor="middle">mut</text>
<line x1="456.70" y1="225.20" x2="456.70" y2="328.00" stroke="#1a1a1a" stroke-width="1.2" />
<line x1="454.10" y1="228.60" x2="456.70" y2="228.60" stroke="#1a1a1a" stroke-width="1.2" />
<text x="450.20" y="231.60" font-size="8.5" text-anchor="end">60</text>
<line x1="454.10" y1="261.50" x2="456.70" y2="261.50" stroke="#1a1a1a" stroke-width="1.2" />
<text x="450.20" y="264.50" font-size="8.5" text-anchor="end">40</text>
<line x1="454.10" y1="294.40" x2="456.70" y2="294.40" stroke="#1a1a1a" stroke-width="1.2" />
<text x="450.20" y="297.40" font-size="8.5" text-anchor="end">20</text>
<line x1="456.10" y1="328.00" x2="511.20" y2="328.00" stroke="#1a1a1a" stroke-width="1.3" />
<line x1="470.90" y1="328.00" x2="470.90" y2="331.20" stroke="#1a1a1a" stroke-width="1.0" />
<line x1="500.80" y1="328.00" x2="500.80" y2="331.20" stroke="#1a1a1a" stroke-width="1.0" />
<line x1="470.90" y1="246.60" x2="470.90" y2="294.30" stroke="#222" stroke-width="1.2" />
<line x1="467.70" y1="246.60" x2="474.10" y2="246.60" stroke="#222" stroke-width="1.2" />
<line x1="467.70" y1="294.30" x2="474.10" y2="294.30" stroke="#222" stroke-width="1.2" />
<line x1="463.50" y1="270.50" x2="478.30" y2="270.50" stroke="#222" stroke-width="1.3" />
<circle cx="470.90" cy="235.50" r="1.50" fill="#0f4d8a" />
<circle cx="470.90" cy="239.20" r="1.50" fill="#0f4d8a" />
<circle cx="470.90" cy="249.30" r="1.50" fill="#0f4d8a" />
<circle cx="470.90" cy="252.40" r="1.50" fill="#0f4d8a" />
<circle cx="470.90" cy="261.70" r="1.50" fill="#0f4d8a" />
<circle cx="470.90" cy="263.20" r="1.50" fill="#0f4d8a" />
<circle cx="470.90" cy="267.40" r="1.50" fill="#0f4d8a" />
<circle cx="470.90" cy="270.50" r="1.50" fill="#0f4d8a" />
<circle cx="470.90" cy="278.20" r="1.50" fill="#0f4d8a" />
<circle cx="470.90" cy="297.40" r="1.50" fill="#0f4d8a" />
<circle cx="470.90" cy="299.30" r="1.50" fill="#0f4d8a" />
<circle cx="470.90" cy="304.80" r="1.50" fill="#0f4d8a" />
<circle cx="470.90" cy="307.00" r="1.50" fill="#0f4d8a" />
<line x1="500.10" y1="273.50" x2="500.10" y2="311.60" stroke="#222" stroke-width="1.2" />
<line x1="496.90" y1="273.50" x2="503.30" y2="273.50" stroke="#222" stroke-width="1.2" />
<line x1="496.90" y1="311.60" x2="503.30" y2="311.60" stroke="#222" stroke-width="1.2" />
<line x1="492.70" y1="292.50" x2="507.50" y2="292.50" stroke="#222" stroke-width="1.3" />
<circle cx="500.10" cy="262.00" r="1.50" fill="#c8102e" />
<circle cx="495.80" cy="270.50" r="1.50" fill="#c8102e" />
<circle cx="500.10" cy="275.10" r="1.50" fill="#c8102e" />
<circle cx="504.30" cy="275.40" r="1.50" fill="#c8102e" />
<circle cx="497.10" cy="281.20" r="1.50" fill="#c8102e" />
<circle cx="503.20" cy="283.90" r="1.50" fill="#c8102e" />
<circle cx="497.10" cy="294.00" r="1.50" fill="#c8102e" />
<circle cx="503.20" cy="292.50" r="1.50" fill="#c8102e" />
<circle cx="504.30" cy="301.30" r="1.50" fill="#c8102e" />
<circle cx="495.80" cy="304.70" r="1.50" fill="#c8102e" />
<circle cx="500.10" cy="305.10" r="1.50" fill="#c8102e" />
<circle cx="495.80" cy="316.20" r="1.50" fill="#c8102e" />
<circle cx="500.10" cy="320.50" r="1.50" fill="#c8102e" />
<circle cx="504.30" cy="321.30" r="1.50" fill="#c8102e" />
<path d="M463.0 232.3 V230.3 H510.2 V232.3" stroke="#1a1a1a" stroke-width="1.2" fill="none" />
<polygon points="486.40,223.50 486.99,224.59 488.21,224.81 487.35,225.71 487.52,226.94 486.40,226.40 485.28,226.94 485.45,225.71 484.59,224.81 485.81,224.59" fill="#111" stroke="#111" stroke-width="0.3"/>
<text x="436.00" y="278.60" font-size="9.0" text-anchor="middle" textLength="31.10" lengthAdjust="spacingAndGlyphs" transform="rotate(-90 436.00 278.60)">ADCP (%)</text>
<text x="462.60" y="340.80" font-size="7.8" textLength="17.30" lengthAdjust="spacingAndGlyphs" font-style="italic">TP53</text>
<text x="470.90" y="350.00" font-size="7.8" text-anchor="middle">WT</text>
<text x="491.60" y="340.80" font-size="7.8" textLength="17.90" lengthAdjust="spacingAndGlyphs" font-style="italic">TP53</text>
<text x="500.80" y="349.20" font-size="7.8" text-anchor="middle">mut</text>
<text x="8.40" y="380.30" font-size="14" font-weight="bold" fill="#000">E</text>
<text x="57.60" y="393.00" font-size="8.2" textLength="101.40" lengthAdjust="spacingAndGlyphs">Multiple myeloma patients</text>
<line x1="41.80" y1="400.60" x2="41.80" y2="502.50" stroke="#1a1a1a" stroke-width="1.2" />
<line x1="39.20" y1="404.40" x2="41.80" y2="404.40" stroke="#1a1a1a" stroke-width="1.2" />
<text x="35.60" y="407.40" font-size="8.5" text-anchor="end">60</text>
<line x1="39.20" y1="437.10" x2="41.80" y2="437.10" stroke="#1a1a1a" stroke-width="1.2" />
<text x="35.60" y="440.10" font-size="8.5" text-anchor="end">40</text>
<line x1="39.20" y1="469.80" x2="41.80" y2="469.80" stroke="#1a1a1a" stroke-width="1.2" />
<text x="35.60" y="472.80" font-size="8.5" text-anchor="end">20</text>
<line x1="41.20" y1="502.50" x2="174.80" y2="502.50" stroke="#1a1a1a" stroke-width="1.3" />
<text x="21.00" y="453.80" font-size="9.0" text-anchor="middle" textLength="31.50" lengthAdjust="spacingAndGlyphs" transform="rotate(-90 21.00 453.80)">ADCP (%)</text>
<line x1="65.40" y1="502.50" x2="65.40" y2="505.50" stroke="#1a1a1a" stroke-width="1.0" />
<line x1="110.10" y1="502.50" x2="110.10" y2="505.50" stroke="#1a1a1a" stroke-width="1.0" />
<line x1="155.40" y1="502.50" x2="155.40" y2="505.50" stroke="#1a1a1a" stroke-width="1.0" />
<text x="65.40" y="514.10" font-size="7.9" text-anchor="middle">1:1</text>
<text x="110.10" y="514.10" font-size="7.9" text-anchor="middle">5:1</text>
<text x="155.50" y="514.10" font-size="7.9" text-anchor="middle">10:1</text>
<text x="73.00" y="528.60" font-size="9.4" textLength="70.20" lengthAdjust="spacingAndGlyphs">Ratio tumor cell: MΦ</text>
<line x1="65.40" y1="439.50" x2="65.40" y2="502.00" stroke="#222" stroke-width="1.2" />
<line x1="63.00" y1="439.50" x2="67.80" y2="439.50" stroke="#222" stroke-width="1.2" />
<line x1="63.00" y1="502.00" x2="67.80" y2="502.00" stroke="#222" stroke-width="1.2" />
<line x1="63.00" y1="490.80" x2="67.80" y2="490.80" stroke="#111" stroke-width="1.8" />
<line x1="110.10" y1="420.00" x2="110.10" y2="454.30" stroke="#222" stroke-width="1.2" />
<line x1="107.70" y1="420.00" x2="112.50" y2="420.00" stroke="#222" stroke-width="1.2" />
<line x1="107.70" y1="454.30" x2="112.50" y2="454.30" stroke="#222" stroke-width="1.2" />
<line x1="107.70" y1="444.20" x2="112.50" y2="444.20" stroke="#222" stroke-width="1.2" />
<line x1="107.70" y1="430.00" x2="112.50" y2="430.00" stroke="#222" stroke-width="1.2" />
<line x1="110.10" y1="476.50" x2="110.10" y2="484.30" stroke="#222" stroke-width="1.2" />
<line x1="107.70" y1="476.50" x2="112.50" y2="476.50" stroke="#222" stroke-width="1.2" />
<line x1="107.70" y1="484.30" x2="112.50" y2="484.30" stroke="#222" stroke-width="1.2" />
<line x1="155.40" y1="420.00" x2="155.40" y2="448.60" stroke="#222" stroke-width="1.2" />
<line x1="153.00" y1="420.00" x2="157.80" y2="420.00" stroke="#222" stroke-width="1.2" />
<line x1="153.00" y1="448.60" x2="157.80" y2="448.60" stroke="#222" stroke-width="1.2" />
<line x1="153.00" y1="436.00" x2="157.80" y2="436.00" stroke="#222" stroke-width="1.2" />
<line x1="155.40" y1="474.80" x2="155.40" y2="483.10" stroke="#222" stroke-width="1.2" />
<line x1="153.00" y1="474.80" x2="157.80" y2="474.80" stroke="#222" stroke-width="1.2" />
<line x1="153.00" y1="483.10" x2="157.80" y2="483.10" stroke="#222" stroke-width="1.2" />
<polygon points="155.40,469.50 155.90,470.41 156.92,470.61 156.21,471.36 156.34,472.39 155.40,471.95 154.46,472.39 154.59,471.36 153.88,470.61 154.90,470.41" fill="#111" stroke="#111" stroke-width="0.3"/>
<polyline points="65.40,457.70 110.10,432.00 155.40,429.80" fill="none" stroke="#0f4d8a" stroke-width="1.9" stroke-linejoin="round"/>
<circle cx="65.40" cy="457.70" r="1.80" fill="#0f4d8a" />
<circle cx="110.10" cy="432.00" r="1.80" fill="#0f4d8a" />
<circle cx="155.40" cy="429.80" r="1.80" fill="#0f4d8a" />
<polyline points="65.40,475.10 110.10,442.30 155.40,440.60" fill="none" stroke="#3ab54a" stroke-width="1.9" stroke-linejoin="round"/>
<circle cx="65.40" cy="475.10" r="1.80" fill="#3ab54a" />
<circle cx="110.10" cy="442.30" r="1.80" fill="#3ab54a" />
<circle cx="155.40" cy="440.60" r="1.80" fill="#3ab54a" />
<polyline points="65.40,496.20 110.10,480.50 155.40,479.40" fill="none" stroke="#c8102e" stroke-width="1.9" stroke-linejoin="round"/>
<circle cx="65.40" cy="496.20" r="1.80" fill="#c8102e" />
<circle cx="110.10" cy="480.50" r="1.80" fill="#c8102e" />
<circle cx="155.40" cy="479.40" r="1.80" fill="#c8102e" />
<line x1="174.60" y1="412.90" x2="187.10" y2="412.90" stroke="#0f4d8a" stroke-width="1.8" />
<circle cx="180.90" cy="412.90" r="1.70" fill="#0f4d8a" />
<line x1="174.60" y1="424.20" x2="187.10" y2="424.20" stroke="#3ab54a" stroke-width="1.8" />
<circle cx="180.90" cy="424.20" r="1.70" fill="#3ab54a" />
<line x1="174.60" y1="436.30" x2="187.10" y2="436.30" stroke="#c8102e" stroke-width="1.8" />
<circle cx="180.90" cy="436.30" r="1.70" fill="#c8102e" />
<text x="190.60" y="414.70" font-size="8.2" textLength="24.20" lengthAdjust="spacingAndGlyphs">Normal</text>
<text x="190.60" y="426.60" font-size="8.2" textLength="36.30" lengthAdjust="spacingAndGlyphs">13q14 DEL</text>
<text x="190.6" y="438.4" font-size="8.2" textLength="31.3" lengthAdjust="spacingAndGlyphs"><tspan font-style="italic">TP53</tspan> DEL</text>
<text x="296.60" y="380.30" font-size="14" font-weight="bold" fill="#000">F</text>
<g transform="translate(343.00 401.30) scale(1.0)"><path d="M-16.6 -5.8 C-13.5 -5.4 -11 -10.8 -6.5 -10.9 C-3.5 -11 -1.2 -10.2 0 -7.0" fill="none" stroke="#7a7a7a" stroke-width="1.25"/><path d="M0 -7.2 C5.6 -7.2 9.3 -2.6 9.1 2.6 C8.9 6.6 4.2 9.3 2.2 11.8 Q1.0 13.1 0 13.1 Q-1.0 13.1 -2.2 11.8 C-4.2 9.3 -8.9 6.6 -9.1 2.6 C-9.3 -2.6 -5.6 -7.2 0 -7.2 Z" fill="#b4b4b4" stroke="#6e6e6e" stroke-width="0.6"/><ellipse cx="-6.0" cy="3.6" rx="2.9" ry="1.7" fill="#cfcfcf"/><ellipse cx="6.0" cy="3.6" rx="2.9" ry="1.7" fill="#cfcfcf"/><path d="M-9.1 3.8 C-8.8 0.6 -5.0 -0.3 -3.2 1.8" fill="none" stroke="#111" stroke-width="1.9"/><path d="M9.1 3.8 C8.8 0.6 5.0 -0.3 3.2 1.8" fill="none" stroke="#111" stroke-width="1.9"/><circle cx="-2.1" cy="8.6" r="0.9" fill="#222"/><circle cx="2.2" cy="8.6" r="0.9" fill="#222"/><ellipse cx="0.3" cy="11.9" rx="1.7" ry="0.9" fill="#1a1a1a"/><path d="M-3.0 11.0 L-6.3 9.6 M-3.0 11.6 L-6.4 12.0 M-2.8 12.1 L-5.6 13.6 M3.2 11.0 L6.5 9.6 M3.2 11.6 L6.6 12.0 M3.0 12.1 L5.8 13.6" stroke="#aaa" stroke-width="0.45"/></g>
<g transform="translate(347.0 396.6) rotate(-44)"><line x1="0" y1="0" x2="4.0" y2="0" stroke="#333" stroke-width="0.7"/><path d="M4 0 L6.5 -2.0 H17.5 V2.0 H6.5 Z" fill="#fff" stroke="#222" stroke-width="1.0"/><line x1="17.5" y1="-3.2" x2="17.5" y2="3.2" stroke="#222" stroke-width="1.3"/><line x1="17.5" y1="0" x2="23.0" y2="0" stroke="#222" stroke-width="1.0"/><line x1="17.5" y1="-1.1" x2="23.0" y2="-1.1" stroke="#222" stroke-width="0.6"/><line x1="17.5" y1="1.1" x2="23.0" y2="1.1" stroke="#222" stroke-width="0.6"/><line x1="23.0" y1="-3.0" x2="23.0" y2="3.0" stroke="#222" stroke-width="1.3"/></g>
<text x="369.60" y="380.80" font-size="8.2" textLength="15.80" lengthAdjust="spacingAndGlyphs">CTX</text>
<text x="374.80" y="398.50" font-size="8.2" textLength="14.40" lengthAdjust="spacingAndGlyphs">24h</text>
<line x1="361.30" y1="402.70" x2="398.30" y2="402.70" stroke="#111" stroke-width="1.3" />
<path d="M397.80 398.90 L404.40 402.70 L397.80 406.50 Z" fill="#111"/>
<path d="M406.90 399.60 L406.90 406.60 A13.40 3.40 0 0 0 433.70 406.60 L433.70 399.60 A13.40 3.40 0 0 1 406.90 399.60 Z" fill="#fdf3f7" stroke="none"/>
<ellipse cx="420.30" cy="401.13" rx="12.06" ry="2.04" fill="#f8d3e0" opacity="0.8"/>
<path d="M407.30 402.66 L407.30 406.00 A13.00 3.13 0 0 0 433.30 406.00 L433.30 402.66 A13.00 3.06 0 0 1 407.30 402.66 Z" fill="#f8d3e0" opacity="0.45"/>
<circle cx="412.00" cy="404.80" r="2.30" fill="#f4bccf" />
<circle cx="412.00" cy="404.80" r="1.30" fill="#a286c4" stroke="#74579f" stroke-width="0.55"/>
<circle cx="411.80" cy="404.60" r="0.59" fill="#b9a2d6" />
<circle cx="417.00" cy="403.50" r="2.30" fill="#f4bccf" />
<circle cx="417.00" cy="403.50" r="1.30" fill="#a286c4" stroke="#74579f" stroke-width="0.55"/>
<circle cx="416.80" cy="403.30" r="0.59" fill="#b9a2d6" />
<circle cx="422.50" cy="403.50" r="2.30" fill="#f4bccf" />
<circle cx="422.50" cy="403.50" r="1.30" fill="#a286c4" stroke="#74579f" stroke-width="0.55"/>
<circle cx="422.30" cy="403.30" r="0.59" fill="#b9a2d6" />
<circle cx="428.00" cy="404.00" r="2.30" fill="#f4bccf" />
<circle cx="428.00" cy="404.00" r="1.30" fill="#a286c4" stroke="#74579f" stroke-width="0.55"/>
<circle cx="427.80" cy="403.80" r="0.59" fill="#b9a2d6" />
<circle cx="416.00" cy="407.00" r="2.30" fill="#f4bccf" />
<circle cx="416.00" cy="407.00" r="1.30" fill="#a286c4" stroke="#74579f" stroke-width="0.55"/>
<circle cx="415.80" cy="406.80" r="0.59" fill="#b9a2d6" />
<circle cx="421.50" cy="407.00" r="2.30" fill="#f4bccf" />
<circle cx="421.50" cy="407.00" r="1.30" fill="#a286c4" stroke="#74579f" stroke-width="0.55"/>
<circle cx="421.30" cy="406.80" r="0.59" fill="#b9a2d6" />
<circle cx="427.00" cy="406.80" r="2.30" fill="#f4bccf" />
<circle cx="427.00" cy="406.80" r="1.30" fill="#a286c4" stroke="#74579f" stroke-width="0.55"/>
<circle cx="426.80" cy="406.60" r="0.59" fill="#b9a2d6" />
<ellipse cx="420.30" cy="399.60" rx="13.40" ry="3.40" fill="none" stroke="#8c8c8c" stroke-width="0.7"/>
<path d="M406.90 399.60 L406.90 406.60 A13.40 3.40 0 0 0 433.70 406.60 L433.70 399.60" fill="none" stroke="#8c8c8c" stroke-width="0.7"/>
<path d="M407.44 403.40 A12.86 3.06 0 0 0 433.16 403.40" fill="none" stroke="#8c8c8c" stroke-width="0.5" opacity="0.7"/>
<line x1="435.20" y1="402.70" x2="472.20" y2="402.70" stroke="#111" stroke-width="1.3" />
<path d="M471.70 398.90 L478.30 402.70 L471.70 406.50 Z" fill="#111"/>
<path d="M480.20 397.40 L480.20 406.00 A15.90 4.00 0 0 0 512.00 406.00 L512.00 397.40 A15.90 4.00 0 0 1 480.20 397.40 Z" fill="#fdf3f7" stroke="none"/>
<ellipse cx="496.10" cy="399.20" rx="14.31" ry="2.40" fill="#f8d3e0" opacity="0.8"/>
<path d="M480.68 401.00 L480.68 405.40 A15.42 3.68 0 0 0 511.52 405.40 L511.52 401.00 A15.42 3.60 0 0 1 480.68 401.00 Z" fill="#f8d3e0" opacity="0.45"/>
<ellipse cx="491.42" cy="405.67" rx="2.96" ry="2.03" transform="rotate(-25 491.42 405.67)" fill="#cfe8f0" stroke="#8cbfd0" stroke-width="0.45"/>
<ellipse cx="491.19" cy="405.51" rx="1.72" ry="1.09" transform="rotate(-25 491.19 405.51)" fill="#a9cde0" opacity="0.8"/>
<g transform="translate(486.27 405.36) rotate(-30)"><ellipse cx="1.72" cy="0.3" rx="4.46" ry="2.95" fill="#c9e6ee" stroke="#8cbfd0" stroke-width="0.45"/><ellipse cx="0" cy="0" rx="3.43" ry="2.18" fill="#5684b6" stroke="#2b4f80" stroke-width="0.6"/><ellipse cx="-0.69" cy="-0.55" rx="1.54" ry="0.76" fill="#6d98c6" opacity="0.8"/></g>
<circle cx="502.18" cy="406.21" r="4.68" fill="#f8cfdd" stroke="#eaa0b8" stroke-width="0.5"/>
<circle cx="502.18" cy="406.21" r="3.51" fill="#ae9ad0" stroke="#8a70b0" stroke-width="0.45"/>
<path d="M493.60 398.88 L495.55 402.24 L499.22 403.17 M495.55 402.24 L495.01 406.60" stroke="#1e1e1e" stroke-width="1.326" fill="none" stroke-linecap="round" stroke-linejoin="round"/>
<ellipse cx="496.10" cy="397.40" rx="15.90" ry="4.00" fill="none" stroke="#8c8c8c" stroke-width="0.7"/>
<path d="M480.20 397.40 L480.20 406.00 A15.90 4.00 0 0 0 512.00 406.00 L512.00 397.40" fill="none" stroke="#8c8c8c" stroke-width="0.7"/>
<path d="M480.84 402.80 A15.26 3.60 0 0 0 511.36 402.80" fill="none" stroke="#8c8c8c" stroke-width="0.5" opacity="0.7"/>
<text x="300.9" y="424.6" font-size="8.6" textLength="54.0" lengthAdjust="spacingAndGlyphs">Eμ-<tspan font-style="italic">TCL1-Cd19</tspan></text>
<text x="354.00" y="420.90" font-size="6.2" textLength="23.50" lengthAdjust="spacingAndGlyphs">Cre/WT</text>
<text x="420.40" y="423.40" font-size="8.2" text-anchor="middle" textLength="23.60" lengthAdjust="spacingAndGlyphs">Spleen</text>
<text x="390.20" y="433.20" font-size="8.2" textLength="60.30" lengthAdjust="spacingAndGlyphs">leukemia B-cells</text>
<text x="485.00" y="423.10" font-size="8.2" textLength="22.40" lengthAdjust="spacingAndGlyphs">ADCP</text>
<text x="339.7" y="450.9" font-size="8.4" textLength="33.9" lengthAdjust="spacingAndGlyphs"><tspan font-style="italic">Tp53</tspan>-WT</text>
<line x1="333.40" y1="458.10" x2="333.40" y2="561.00" stroke="#1a1a1a" stroke-width="1.2" />
<line x1="330.80" y1="462.00" x2="333.40" y2="462.00" stroke="#1a1a1a" stroke-width="1.2" />
<text x="327.20" y="465.00" font-size="8.5" text-anchor="end">80</text>
<line x1="330.80" y1="486.75" x2="333.40" y2="486.75" stroke="#1a1a1a" stroke-width="1.2" />
<text x="327.20" y="489.75" font-size="8.5" text-anchor="end">60</text>
<line x1="330.80" y1="511.50" x2="333.40" y2="511.50" stroke="#1a1a1a" stroke-width="1.2" />
<text x="327.20" y="514.50" font-size="8.5" text-anchor="end">40</text>
<line x1="330.80" y1="536.25" x2="333.40" y2="536.25" stroke="#1a1a1a" stroke-width="1.2" />
<text x="327.20" y="539.25" font-size="8.5" text-anchor="end">20</text>
<line x1="332.80" y1="561.00" x2="379.40" y2="561.00" stroke="#1a1a1a" stroke-width="1.3" />
<line x1="349.00" y1="561.00" x2="349.00" y2="564.20" stroke="#1a1a1a" stroke-width="1.0" />
<line x1="368.30" y1="561.00" x2="368.30" y2="564.20" stroke="#1a1a1a" stroke-width="1.0" />
<line x1="348.80" y1="519.30" x2="348.80" y2="533.70" stroke="#222" stroke-width="1.2" />
<line x1="346.00" y1="519.30" x2="351.60" y2="519.30" stroke="#222" stroke-width="1.2" />
<line x1="346.00" y1="533.70" x2="351.60" y2="533.70" stroke="#222" stroke-width="1.2" />
<line x1="342.20" y1="526.60" x2="355.40" y2="526.60" stroke="#222" stroke-width="1.3" />
<circle cx="345.40" cy="517.60" r="1.50" fill="#0f4d8a" />
<circle cx="351.80" cy="517.60" r="1.50" fill="#0f4d8a" />
<circle cx="345.40" cy="526.00" r="1.50" fill="#0f4d8a" />
<circle cx="351.80" cy="526.00" r="1.50" fill="#0f4d8a" />
<circle cx="348.80" cy="530.20" r="1.50" fill="#0f4d8a" />
<circle cx="351.80" cy="533.20" r="1.50" fill="#0f4d8a" />
<circle cx="345.40" cy="536.50" r="1.50" fill="#0f4d8a" />
<line x1="368.30" y1="493.00" x2="368.30" y2="523.00" stroke="#222" stroke-width="1.2" />
<line x1="365.50" y1="493.00" x2="371.10" y2="493.00" stroke="#222" stroke-width="1.2" />
<line x1="365.50" y1="523.00" x2="371.10" y2="523.00" stroke="#222" stroke-width="1.2" />
<line x1="361.70" y1="508.00" x2="374.90" y2="508.00" stroke="#222" stroke-width="1.3" />
<circle cx="368.30" cy="489.70" r="1.50" fill="#0f4d8a" />
<circle cx="368.30" cy="496.00" r="1.50" fill="#0f4d8a" />
<circle cx="368.30" cy="510.80" r="1.50" fill="#0f4d8a" />
<circle cx="368.30" cy="517.80" r="1.50" fill="#0f4d8a" />
<circle cx="368.30" cy="525.60" r="1.50" fill="#0f4d8a" />
<path d="M342.9 484.0 V481.3 H374.2 V484.0" stroke="#1a1a1a" stroke-width="1.2" fill="none" />
<polygon points="358.40,474.80 358.99,475.89 360.21,476.11 359.35,477.01 359.52,478.24 358.40,477.70 357.28,478.24 357.45,477.01 356.59,476.11 357.81,475.89" fill="#111" stroke="#111" stroke-width="0.3"/>
<text x="312.20" y="511.70" font-size="9.0" text-anchor="middle" textLength="31.50" lengthAdjust="spacingAndGlyphs" transform="rotate(-90 312.20 511.70)">ADCP (%)</text>
<text x="318.30" y="571.60" font-size="7.6" textLength="14.80" lengthAdjust="spacingAndGlyphs">CTX</text>
<text x="349.00" y="571.40" font-size="7.6" text-anchor="middle">–</text>
<text x="368.30" y="571.40" font-size="7.6" text-anchor="middle">+</text>
<text x="458.70" y="451.00" font-size="8.2" textLength="33.40" lengthAdjust="spacingAndGlyphs" font-style="italic">Tp53 fl/fl</text>
<line x1="452.70" y1="457.50" x2="452.70" y2="560.50" stroke="#1a1a1a" stroke-width="1.2" />
<line x1="450.10" y1="461.50" x2="452.70" y2="461.50" stroke="#1a1a1a" stroke-width="1.2" />
<text x="446.60" y="464.50" font-size="8.5" text-anchor="end">80</text>
<line x1="450.10" y1="486.25" x2="452.70" y2="486.25" stroke="#1a1a1a" stroke-width="1.2" />
<text x="446.60" y="489.25" font-size="8.5" text-anchor="end">60</text>
<line x1="450.10" y1="511.00" x2="452.70" y2="511.00" stroke="#1a1a1a" stroke-width="1.2" />
<text x="446.60" y="514.00" font-size="8.5" text-anchor="end">40</text>
<line x1="450.10" y1="535.75" x2="452.70" y2="535.75" stroke="#1a1a1a" stroke-width="1.2" />
<text x="446.60" y="538.75" font-size="8.5" text-anchor="end">20</text>
<line x1="452.10" y1="560.50" x2="497.80" y2="560.50" stroke="#1a1a1a" stroke-width="1.3" />
<line x1="466.70" y1="560.50" x2="466.70" y2="563.70" stroke="#1a1a1a" stroke-width="1.0" />
<line x1="486.60" y1="560.50" x2="486.60" y2="563.70" stroke="#1a1a1a" stroke-width="1.0" />
<line x1="466.70" y1="500.40" x2="466.70" y2="531.50" stroke="#222" stroke-width="1.2" />
<line x1="463.90" y1="500.40" x2="469.50" y2="500.40" stroke="#222" stroke-width="1.2" />
<line x1="463.90" y1="531.50" x2="469.50" y2="531.50" stroke="#222" stroke-width="1.2" />
<line x1="460.10" y1="516.10" x2="473.30" y2="516.10" stroke="#222" stroke-width="1.3" />
<circle cx="466.70" cy="494.10" r="1.50" fill="#c8102e" />
<circle cx="463.50" cy="506.20" r="1.50" fill="#c8102e" />
<circle cx="469.90" cy="503.00" r="1.50" fill="#c8102e" />
<circle cx="463.50" cy="519.90" r="1.50" fill="#c8102e" />
<circle cx="469.90" cy="521.60" r="1.50" fill="#c8102e" />
<circle cx="463.50" cy="533.70" r="1.50" fill="#c8102e" />
<circle cx="469.90" cy="533.70" r="1.50" fill="#c8102e" />
<line x1="486.60" y1="499.80" x2="486.60" y2="522.00" stroke="#222" stroke-width="1.2" />
<line x1="483.80" y1="499.80" x2="489.40" y2="499.80" stroke="#222" stroke-width="1.2" />
<line x1="483.80" y1="522.00" x2="489.40" y2="522.00" stroke="#222" stroke-width="1.2" />
<line x1="480.00" y1="511.00" x2="493.20" y2="511.00" stroke="#222" stroke-width="1.3" />
<circle cx="486.60" cy="498.30" r="1.50" fill="#c8102e" />
<circle cx="486.60" cy="505.70" r="1.50" fill="#c8102e" />
<circle cx="483.40" cy="509.80" r="1.50" fill="#c8102e" />
<circle cx="489.80" cy="514.00" r="1.50" fill="#c8102e" />
<circle cx="486.60" cy="528.00" r="1.50" fill="#c8102e" />
<text x="431.30" y="511.70" font-size="9.0" text-anchor="middle" textLength="31.50" lengthAdjust="spacingAndGlyphs" transform="rotate(-90 431.30 511.70)">ADCP (%)</text>
<text x="437.50" y="571.70" font-size="7.6" textLength="14.80" lengthAdjust="spacingAndGlyphs">CTX</text>
<text x="466.70" y="571.40" font-size="7.6" text-anchor="middle">–</text>
<text x="486.60" y="571.40" font-size="7.6" text-anchor="middle">+</text>
<text x="8.20" y="590.30" font-size="14" font-weight="bold" fill="#000">G</text>
<g transform="translate(33.10 615.50) scale(1.0)"><path d="M-16.6 -5.8 C-13.5 -5.4 -11 -10.8 -6.5 -10.9 C-3.5 -11 -1.2 -10.2 0 -7.0" fill="none" stroke="#7a7a7a" stroke-width="1.25"/><path d="M0 -7.2 C5.6 -7.2 9.3 -2.6 9.1 2.6 C8.9 6.6 4.2 9.3 2.2 11.8 Q1.0 13.1 0 13.1 Q-1.0 13.1 -2.2 11.8 C-4.2 9.3 -8.9 6.6 -9.1 2.6 C-9.3 -2.6 -5.6 -7.2 0 -7.2 Z" fill="#b4b4b4" stroke="#6e6e6e" stroke-width="0.6"/><ellipse cx="-6.0" cy="3.6" rx="2.9" ry="1.7" fill="#cfcfcf"/><ellipse cx="6.0" cy="3.6" rx="2.9" ry="1.7" fill="#cfcfcf"/><path d="M-9.1 3.8 C-8.8 0.6 -5.0 -0.3 -3.2 1.8" fill="none" stroke="#111" stroke-width="1.9"/><path d="M9.1 3.8 C8.8 0.6 5.0 -0.3 3.2 1.8" fill="none" stroke="#111" stroke-width="1.9"/><circle cx="-2.1" cy="8.6" r="0.9" fill="#222"/><circle cx="2.2" cy="8.6" r="0.9" fill="#222"/><ellipse cx="0.3" cy="11.9" rx="1.7" ry="0.9" fill="#1a1a1a"/><path d="M-3.0 11.0 L-6.3 9.6 M-3.0 11.6 L-6.4 12.0 M-2.8 12.1 L-5.6 13.6 M3.2 11.0 L6.5 9.6 M3.2 11.6 L6.6 12.0 M3.0 12.1 L5.8 13.6" stroke="#aaa" stroke-width="0.45"/></g>
<text x="25.00" y="640.60" font-size="8.2" textLength="17.30" lengthAdjust="spacingAndGlyphs">NSG</text>
<text x="52.50" y="605.70" font-size="8.2" textLength="35.90" lengthAdjust="spacingAndGlyphs">hMB cells</text>
<text x="47.6" y="614.6" font-size="8.2" textLength="42.9" lengthAdjust="spacingAndGlyphs"><tspan font-style="italic">i.v</tspan> injection</text>
<line x1="70.20" y1="624.60" x2="205.00" y2="624.60" stroke="#111" stroke-width="1.3" />
<path d="M203.6 620.6 L210.8 624.6 L203.6 628.6 Z" fill="#111"/>
<line x1="70.20" y1="620.60" x2="70.20" y2="628.40" stroke="#111" stroke-width="1.1" />
<line x1="110.50" y1="620.60" x2="110.50" y2="628.40" stroke="#111" stroke-width="1.1" />
<line x1="123.80" y1="620.60" x2="123.80" y2="628.40" stroke="#111" stroke-width="1.1" />
<line x1="138.00" y1="620.60" x2="138.00" y2="628.40" stroke="#111" stroke-width="1.1" />
<text x="70.20" y="637.80" font-size="8.4" text-anchor="middle">0</text>
<text x="110.50" y="637.80" font-size="8.4" text-anchor="middle">14</text>
<text x="123.80" y="637.80" font-size="8.4" text-anchor="middle">15</text>
<text x="138.00" y="637.80" font-size="8.4" text-anchor="middle">16</text>
<text x="192.50" y="637.70" font-size="8.2" textLength="18.20" lengthAdjust="spacingAndGlyphs">Days</text>
<text x="105.00" y="616.30" font-size="8.2" textLength="38.70" lengthAdjust="spacingAndGlyphs">Treatment</text>
<text x="163.80" y="606.30" font-size="8.2" textLength="28.70" lengthAdjust="spacingAndGlyphs">Survival</text>
<text x="156.30" y="616.30" font-size="8.2" textLength="43.70" lengthAdjust="spacingAndGlyphs">observation</text>
<text x="36.7" y="665.6" font-size="8.2" textLength="190.9" lengthAdjust="spacingAndGlyphs"><tspan font-weight="bold">** </tspan><tspan font-weight="bold" font-style="italic">shCTRL</tspan><tspan font-weight="bold"> CA vs. </tspan><tspan font-weight="bold" font-style="italic">shCTRL</tspan><tspan font-weight="bold"> vehicle:</tspan> p-value=0.0075</text>
<text x="36.7" y="681.0" font-size="8.2" textLength="154.9" lengthAdjust="spacingAndGlyphs"><tspan font-weight="bold">* </tspan><tspan font-weight="bold" font-style="italic">shCTRL</tspan><tspan font-weight="bold"> CA vs. </tspan><tspan font-weight="bold" font-style="italic">shTP53</tspan><tspan font-weight="bold"> CA:</tspan> p-value=0.044</text>
<polyline points="289.20,590.00 348.82,590.00 348.82,612.57 356.88,612.57 356.88,635.15 363.50,635.15 363.50,657.72 377.98,657.72 377.98,680.30" fill="none" stroke="#c8102e" stroke-width="1.8" stroke-dasharray="3.2 2.2"/>
<polyline points="289.20,590.00 375.91,590.00 375.91,626.12 377.98,626.12 377.98,644.18 386.46,644.18 386.46,662.24 424.92,662.24 424.92,680.30" fill="none" stroke="#0f4d8a" stroke-width="1.8" stroke-dasharray="3.2 2.2"/>
<polyline points="289.20,590.00 331.45,590.00 331.45,605.35 335.38,605.35 335.38,619.80 345.72,619.80 345.72,650.50 348.20,650.50 348.20,664.95 352.33,664.95 352.33,680.30" fill="none" stroke="#c8102e" stroke-width="1.8"/>
<polyline points="289.20,590.00 333.10,590.00 333.10,608.06 344.06,608.06 344.06,632.44 348.20,632.44 348.20,680.30" fill="none" stroke="#0f4d8a" stroke-width="1.8"/>
<line x1="289.20" y1="586.70" x2="289.20" y2="679.20" stroke="#1a1a1a" stroke-width="1.2" />
<line x1="286.60" y1="590.00" x2="289.20" y2="590.00" stroke="#1a1a1a" stroke-width="1.2" />
<text x="282.60" y="593.00" font-size="8.0" text-anchor="end">100</text>
<line x1="286.60" y1="635.15" x2="289.20" y2="635.15" stroke="#1a1a1a" stroke-width="1.2" />
<text x="282.60" y="638.15" font-size="8.0" text-anchor="end">50</text>
<line x1="288.60" y1="679.20" x2="428.60" y2="679.20" stroke="#1a1a1a" stroke-width="1.3" />
<line x1="289.20" y1="679.20" x2="289.20" y2="682.20" stroke="#1a1a1a" stroke-width="1.0" />
<text x="289.20" y="691.30" font-size="8.0" text-anchor="middle">0</text>
<line x1="331.86" y1="679.20" x2="331.86" y2="682.20" stroke="#1a1a1a" stroke-width="1.0" />
<text x="331.86" y="691.30" font-size="8.0" text-anchor="middle">20</text>
<line x1="373.22" y1="679.20" x2="373.22" y2="682.20" stroke="#1a1a1a" stroke-width="1.0" />
<text x="373.22" y="691.30" font-size="8.0" text-anchor="middle">40</text>
<line x1="414.58" y1="679.20" x2="414.58" y2="682.20" stroke="#1a1a1a" stroke-width="1.0" />
<text x="414.58" y="691.30" font-size="8.0" text-anchor="middle">60</text>
<text x="348.70" y="702.80" font-size="9.0" textLength="15.40" lengthAdjust="spacingAndGlyphs">Days</text>
<text x="264.80" y="634.60" font-size="10.0" text-anchor="middle" textLength="53.00" lengthAdjust="spacingAndGlyphs" transform="rotate(-90 264.80 634.60)">Percent survival</text>
<line x1="401.50" y1="591.00" x2="411.70" y2="591.00" stroke="#0f4d8a" stroke-width="1.8" />
<line x1="401.50" y1="603.10" x2="411.70" y2="603.10" stroke="#0f4d8a" stroke-width="1.8" stroke-dasharray="2.2 1.6"/>
<line x1="401.50" y1="614.60" x2="411.70" y2="614.60" stroke="#c8102e" stroke-width="1.8" />
<line x1="401.50" y1="626.20" x2="411.70" y2="626.20" stroke="#c8102e" stroke-width="1.8" stroke-dasharray="2.2 1.6"/>
<polygon points="393.30,601.60 393.77,602.45 394.73,602.64 394.06,603.35 394.18,604.31 393.30,603.90 392.42,604.31 392.54,603.35 391.87,602.64 392.83,602.45" fill="#333" stroke="#333" stroke-width="0.3"/>
<polygon points="396.80,601.60 397.27,602.45 398.23,602.64 397.56,603.35 397.68,604.31 396.80,603.90 395.92,604.31 396.04,603.35 395.37,602.64 396.33,602.45" fill="#333" stroke="#333" stroke-width="0.3"/>
<polygon points="396.80,624.60 397.27,625.45 398.23,625.64 397.56,626.35 397.68,627.31 396.80,626.90 395.92,627.31 396.04,626.35 395.37,625.64 396.33,625.45" fill="#333" stroke="#333" stroke-width="0.3"/>
<text x="415.6" y="593.6" font-size="8.0" textLength="57.3" lengthAdjust="spacingAndGlyphs"><tspan font-style="italic">shCTRL</tspan> + Vehicle</text>
<text x="415.6" y="605.7" font-size="8.0" textLength="43.2" lengthAdjust="spacingAndGlyphs"><tspan font-style="italic">shCTRL</tspan> + CA</text>
<text x="415.6" y="617.2" font-size="8.0" textLength="56.3" lengthAdjust="spacingAndGlyphs"><tspan font-style="italic">shTP53</tspan> + Vehicle</text>
<text x="415.6" y="628.8" font-size="8.0" textLength="43.2" lengthAdjust="spacingAndGlyphs"><tspan font-style="italic">shTP53</tspan> + CA</text>
<rect x="0.7" y="0.7" width="518.6" height="712.6" fill="none" stroke="#000" stroke-width="1.5"/>
</svg></body></html>
